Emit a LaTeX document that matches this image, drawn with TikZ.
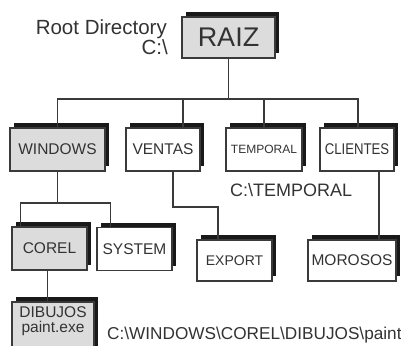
\documentclass[tikz,border=0pt]{standalone}
\usepackage{fontspec}
\setmainfont{Liberation Sans}
\usetikzlibrary{shadows,calc}
\definecolor{ink}{HTML}{333333}
\definecolor{lin}{HTML}{3A3A3A}
\definecolor{boxgray}{HTML}{DCDCDC}
\tikzset{
  dirbox/.style={draw=lin, line width=1.1pt, fill=white, inner sep=0pt, text=ink,
    minimum height=43pt, font=\fontsize{15.5}{18}\selectfont,
    general shadow={fill=black!90, shadow xshift=4pt, shadow yshift=5pt}},
  graybox/.style={dirbox, fill=boxgray},
  conn/.style={draw=lin, line width=1.1pt},
  label/.style={inner sep=0pt, text=ink}
}
\begin{document}
\begin{tikzpicture}[x=1pt,y=-1pt]
\useasboundingbox (0,0) rectangle (401,345);
\fill[white] (0,0) rectangle (401,345);
% boxes
\node[graybox, minimum width=93pt, minimum height=41pt, font=\fontsize{27}{30}\selectfont] (raiz) at (228.5,37.5) {RAIZ};
\node[graybox, minimum width=95pt] (windows) at (57.5,149.5) {WINDOWS};
\node[dirbox, minimum width=74pt] (ventas) at (163,149.5) {VENTAS};
\node[dirbox, minimum width=76pt, font=\fontsize{12}{14}\selectfont] (temporal) at (264,149.5) {TEMPORAL};
\node[dirbox, minimum width=74pt] (clientes) at (357,149.5) {\scalebox{0.85}[1]{CLIENTES}};
\node[graybox, minimum width=75pt] (corel) at (49.5,248.5) {COREL};
\node[dirbox, minimum width=75pt] (system) at (134.5,249) {SYSTEM};
\node[dirbox, minimum width=75pt, minimum height=41pt, font=\fontsize{14}{16}\selectfont] (export) at (234.5,260.5) {EXPORT};
\node[dirbox, minimum width=88pt, minimum height=41pt] (morosos) at (352,260.5) {MOROSOS};
\node[graybox, minimum width=82pt, minimum height=60pt] (dib) at (53,332) {};
\node[label, align=center, font=\fontsize{15.5}{15.5}\selectfont] (dibtxt) at (53,321) {DIBUJOS\\paint.exe};
% labels
\node[label, anchor=base east, font=\fontsize{20.5}{22}\selectfont] (root) at (167,35) {Root Directory};
\node[label, anchor=base east, font=\fontsize{20.5}{22}\selectfont] (rootc) at (168,55) {C:\textbackslash};
\node[label, anchor=base west, font=\fontsize{18}{20}\selectfont] (tpath) at (230,196) {C:\textbackslash TEMPORAL};
\node[label, anchor=base west, font=\fontsize{17.2}{19}\selectfont] (ppath) at (107,339) {C:\textbackslash WINDOWS\textbackslash COREL\textbackslash DIBUJOS\textbackslash paint};
% connectors
\coordinate (bus1) at (228.5,99);
\coordinate (bus2) at (57.5,203);
\coordinate (vbend) at (218,207);
\draw[conn] (raiz.south) -- (bus1);
\draw[conn] (bus1) -| (windows.north);
\draw[conn] (bus1) -| ([xshift=20pt]ventas.north);
\draw[conn] (bus1) -| (temporal.north);
\draw[conn] (bus1) -| ([xshift=1pt]clientes.north);
\draw[conn] (windows.south) -- (bus2);
\draw[conn] (bus2) -| ([xshift=9pt]corel.north west);
\draw[conn] (bus2) -| ([xshift=14pt]system.north west);
\draw[conn] ([xshift=-2pt]corel.south) -- ([xshift=-2pt]corel.south |- dib.north);
\draw[conn] ([xshift=10pt]ventas.south) |- (vbend) -- (vbend |- export.north);
\draw[conn] ([xshift=22pt]clientes.south) -- ([xshift=22pt]clientes.south |- morosos.north);
\end{tikzpicture}
\end{document}
